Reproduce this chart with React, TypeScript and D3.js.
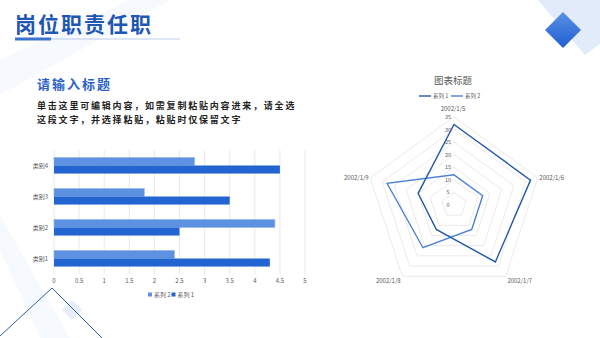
import { useRef, useEffect } from "react";
import * as d3 from "d3";

// bar chart data
const barCategories = ["类别1", "类别2", "类别3", "类别4"];
const barSeries1 = [4.3, 2.5, 3.5, 4.5];
const barSeries2 = [2.4, 4.4, 1.8, 2.8];
const barTicks = [0, 0.5, 1, 1.5, 2, 2.5, 3, 3.5, 4, 4.5, 5];

// radar chart data
const radarAxes = ["2002/1/5", "2002/1/6", "2002/1/7", "2002/1/8", "2002/1/9"];
const radarSeries1 = [32, 32, 28, 12, 15];
const radarSeries2 = [12, 12, 12, 21, 28];
const radarTicks = [0, 5, 10, 15, 20, 25, 30, 35];

const FONT = "'Noto Sans CJK SC', 'Noto Sans', sans-serif";
const LIGHT = "#5d92e2";
const DARK = "#2265d0";
const RADAR_DARK = "#2358a8";
const RADAR_LIGHT = "#4c82d4";
const GRAY_TEXT = "#595959";

export default function App() {
  const svgRef = useRef<SVGSVGElement>(null);

  useEffect(() => {
    if (!svgRef.current) return;
    const svg = d3.select(svgRef.current);
    svg.selectAll("*").remove();

    const width = 600;
    const height = 338;
    svg.attr("width", width).attr("height", height);

    svg.append("rect").attr("width", width).attr("height", height).attr("fill", "#ffffff");

    // faint background stripes
    const deco = svg.append("g");
    deco.append("polygon")
      .attr("points", "0,60 130,0 170,0 0,95")
      .attr("fill", "#eef3fb")
      .attr("opacity", 0.5);
    deco.append("polygon")
      .attr("points", "0,250 40,338 70,338 0,215")
      .attr("fill", "#eef3fb")
      .attr("opacity", 0.5);

    // top-right diamonds
    deco.append("polygon")
      .attr("points", "538,0 585,55 600,44 600,0")
      .attr("fill", "#e2ebf9");
    const grad = svg.append("defs").append("linearGradient")
      .attr("id", "dg").attr("x1", 0).attr("y1", 0).attr("x2", 0).attr("y2", 1);
    grad.append("stop").attr("offset", "0%").attr("stop-color", "#5a90e6");
    grad.append("stop").attr("offset", "100%").attr("stop-color", "#1f5fd0");
    deco.append("polygon")
      .attr("points", "563,12 581,30 563,48 545,30")
      .attr("fill", "url(#dg)");

    // bottom-left outline triangle and small square
    deco.append("polygon")
      .attr("points", "72,300 82,310 72,320 62,310")
      .attr("fill", "#e6eef9");
    deco.append("polyline")
      .attr("points", "0,336 52,288 102,338")
      .attr("fill", "none")
      .attr("stroke", "#2e5fa8")
      .attr("stroke-width", 1);

    // heading
    svg.append("text")
      .attr("x", 15).attr("y", 32)
      .attr("font-family", FONT).attr("font-size", 21).attr("font-weight", 700)
      .attr("letter-spacing", 2)
      .attr("fill", "#1f56b3")
      .text("岗位职责任职");
    svg.append("line")
      .attr("x1", 15).attr("x2", 180).attr("y1", 39).attr("y2", 39)
      .attr("stroke", "#a9c1e6").attr("stroke-width", 0.8);
    svg.append("rect")
      .attr("x", 15).attr("y", 37.5).attr("width", 36).attr("height", 3)
      .attr("fill", "#3a72d0");

    svg.append("text")
      .attr("x", 37).attr("y", 89)
      .attr("font-family", FONT).attr("font-size", 13).attr("font-weight", 700)
      .attr("letter-spacing", 2)
      .attr("fill", "#2a62c8")
      .text("请输入标题");
    const body = [
      "单击这里可编辑内容，如需复制粘贴内容进来，请全选",
      "这段文字，并选择粘贴，粘贴时仅保留文字",
    ];
    body.forEach((line, i) => {
      svg.append("text")
        .attr("x", 37).attr("y", 108.5 + i * 14.5)
        .attr("font-family", FONT).attr("font-size", 9).attr("font-weight", 700)
        .attr("letter-spacing", 1.8)
        .attr("fill", "#222222")
        .text(line);
    });

    // ---------- bar chart ----------
    const x = d3.scaleLinear().domain([0, 5]).range([54, 305]);
    const y = d3.scaleBand<string>()
      .domain([...barCategories].reverse())
      .range([150, 274])
      .paddingInner(0.48)
      .paddingOuter(0.24);
    const inner = d3.scaleBand<string>()
      .domain(["s2", "s1"])
      .range([0, y.bandwidth()]);

    const bar = svg.append("g");
    bar.selectAll(".grid")
      .data(barTicks)
      .enter()
      .append("line")
      .attr("x1", (d) => x(d)).attr("x2", (d) => x(d))
      .attr("y1", 150).attr("y2", 274)
      .attr("stroke", "#e3e3e3").attr("stroke-width", 0.8);

    bar.selectAll(".s2")
      .data(barCategories)
      .enter()
      .append("rect")
      .attr("x", x(0))
      .attr("y", (d) => (y(d) ?? 0) + (inner("s2") ?? 0))
      .attr("width", (d, i) => x(barSeries2[i]) - x(0))
      .attr("height", inner.bandwidth())
      .attr("fill", LIGHT)
      .attr("stroke", "#8fb4ec").attr("stroke-width", 0.5);
    bar.selectAll(".s1")
      .data(barCategories)
      .enter()
      .append("rect")
      .attr("x", x(0))
      .attr("y", (d) => (y(d) ?? 0) + (inner("s1") ?? 0))
      .attr("width", (d, i) => x(barSeries1[i]) - x(0))
      .attr("height", inner.bandwidth())
      .attr("fill", DARK);

    bar.selectAll(".cat")
      .data(barCategories)
      .enter()
      .append("text")
      .attr("x", 48)
      .attr("y", (d) => (y(d) ?? 0) + y.bandwidth() / 2 + 2)
      .attr("text-anchor", "end")
      .attr("font-family", FONT).attr("font-size", 6)
      .attr("fill", GRAY_TEXT)
      .text((d) => d);

    bar.selectAll(".tick")
      .data(barTicks)
      .enter()
      .append("text")
      .attr("x", (d) => x(d))
      .attr("y", 283)
      .attr("text-anchor", "middle")
      .attr("font-family", FONT).attr("font-size", 6)
      .attr("fill", GRAY_TEXT)
      .text((d) => String(d));

    const barLegend = [
      { label: "系列 2", color: LIGHT, x: 148 },
      { label: "系列 1", color: DARK, x: 171.5 },
    ];
    barLegend.forEach((l) => {
      bar.append("rect").attr("x", l.x).attr("y", 292.5).attr("width", 4).attr("height", 4).attr("fill", l.color);
      bar.append("text")
        .attr("x", l.x + 6).attr("y", 297)
        .attr("font-family", FONT).attr("font-size", 6)
        .attr("fill", GRAY_TEXT)
        .text(l.label);
    });

    // ---------- radar chart ----------
    const cx = 454;
    const cy = 205;
    const r = d3.scaleLinear().domain([0, 35]).range([0, 88]);
    const angle = (i: number) => (i * 2 * Math.PI) / radarAxes.length;

    const radar = svg.append("g").attr("transform", `translate(${cx},${cy})`);

    const ringLine = d3.lineRadial<number>()
      .angle((_, i) => angle(i))
      .curve(d3.curveLinearClosed);

    radarTicks.filter((t) => t > 0).forEach((t) => {
      radar.append("path")
        .attr("d", ringLine.radius(() => r(t))(radarAxes.map(() => t)) ?? "")
        .attr("fill", "none")
        .attr("stroke", "#e4e4e4")
        .attr("stroke-width", 0.8);
    });

    const seriesLine = d3.lineRadial<number>()
      .angle((_, i) => angle(i))
      .radius((d) => r(d))
      .curve(d3.curveLinearClosed);

    radar.append("path")
      .attr("d", seriesLine(radarSeries2) ?? "")
      .attr("fill", "none")
      .attr("stroke", RADAR_LIGHT)
      .attr("stroke-width", 1.4);
    radar.append("path")
      .attr("d", seriesLine(radarSeries1) ?? "")
      .attr("fill", "none")
      .attr("stroke", RADAR_DARK)
      .attr("stroke-width", 1.4);

    radar.selectAll(".rt")
      .data(radarTicks)
      .enter()
      .append("text")
      .attr("x", -6)
      .attr("y", (d) => -r(d) + 2)
      .attr("text-anchor", "middle")
      .attr("font-family", FONT).attr("font-size", 5.5)
      .attr("fill", GRAY_TEXT)
      .text((d) => String(d));

    radar.selectAll(".ax")
      .data(radarAxes)
      .enter()
      .append("text")
      .attr("x", (d, i) => {
        const s = Math.sin(angle(i));
        const vx = r(35) * s;
        return Math.abs(s) > 0.1 ? vx + Math.sign(s) * 14 : vx - 1;
      })
      .attr("y", (d, i) => {
        const c = Math.cos(angle(i));
        const vy = -r(35) * c;
        if (c > 0.9) return vy - 6.5;
        if (c < 0) return vy + 7;
        return vy + 2;
      })
      .attr("text-anchor", "middle")
      .attr("font-family", FONT).attr("font-size", 6)
      .attr("fill", GRAY_TEXT)
      .text((d) => d);

    svg.append("text")
      .attr("x", 453).attr("y", 84)
      .attr("text-anchor", "middle")
      .attr("font-family", FONT).attr("font-size", 9.5)
      .attr("fill", GRAY_TEXT)
      .text("图表标题");

    const radarLegend = [
      { label: "系列 1", color: RADAR_DARK, x: 419 },
      { label: "系列 2", color: RADAR_LIGHT, x: 451 },
    ];
    radarLegend.forEach((l) => {
      svg.append("line")
        .attr("x1", l.x).attr("x2", l.x + 12).attr("y1", 96).attr("y2", 96)
        .attr("stroke", l.color).attr("stroke-width", 1.4);
      svg.append("text")
        .attr("x", l.x + 14).attr("y", 98)
        .attr("font-family", FONT).attr("font-size", 5.5)
        .attr("fill", GRAY_TEXT)
        .text(l.label);
    });
  }, []);

  return <svg ref={svgRef} style={{ position: "absolute", left: 0, top: 0 }} />;
}
